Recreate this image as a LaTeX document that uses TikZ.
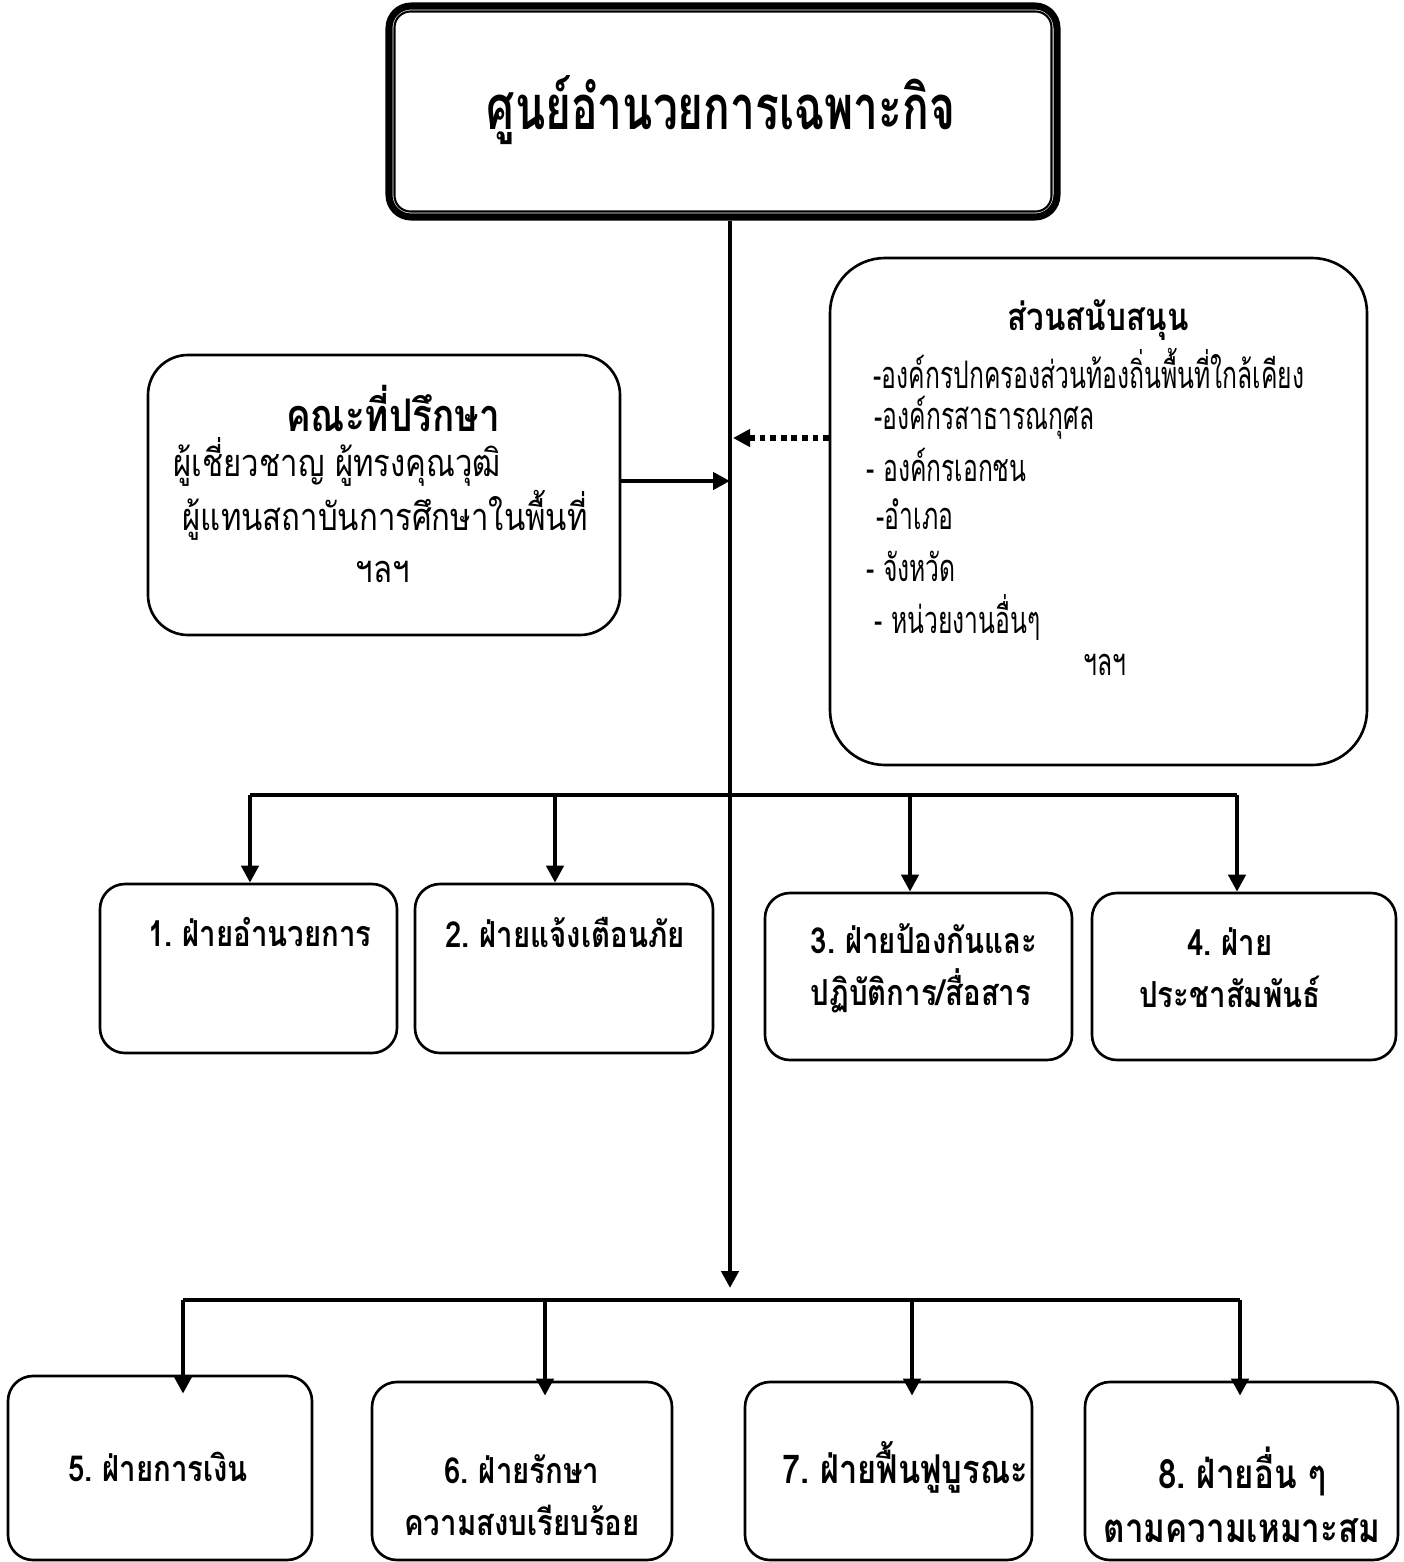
\documentclass[tikz,border=0pt]{standalone}
\usepackage{fontspec}
\usepackage{xcolor}
\usepackage{tikz}
\usetikzlibrary{arrows.meta}
\setmainfont[Script=Thai,FakeStretch=0.82]{Loma}
\newfontfamily\titlefont[Script=Thai,FakeStretch=0.72]{Loma}
\newfontfamily\narrowfont[Script=Thai,FakeStretch=0.65]{Loma}
\newcommand{\titlesize}{\fontsize{17.5}{21}\selectfont}
\newcommand{\labsize}{\fontsize{10.8}{13}\selectfont}
\newcommand{\headsize}{\fontsize{10.2}{14.7}\selectfont}
\frenchspacing

\begin{document}
\begin{tikzpicture}[
  box/.style={draw,line width=0.75pt,rounded corners=0.25cm,inner sep=0pt},
  txt/.style={inner sep=0pt,font=\labsize},
  suptxt/.style={inner sep=0pt,font=\narrowfont\fontsize{10.8}{13}\selectfont},
  head/.style={inner sep=0pt,font=\headsize\bfseries},
  conn/.style={line width=1.3pt},
  arr/.style={line width=1.3pt,-{Triangle[length=0.17cm,width=0.17cm]}}
]
\useasboundingbox (0,0) rectangle (14.03,-15.62);
\clip (0,0) rectangle (14.03,-15.62);

%% head office
\node[box,line width=2pt,rounded corners=0.22cm,minimum width=6.68cm,minimum height=2.11cm] (top) at (7.23,-1.115) {};
\draw[line width=0.6pt,rounded corners=0.16cm] ([shift={(0.09,-0.09)}]top.north west) rectangle ([shift={(-0.09,0.09)}]top.south east);
\node[inner sep=0pt,font=\titlefont\titlesize\bfseries] (title) at (7.21,-1.10) {ศูนย์อำนวยการเฉพาะกิจ};

%% advisors
\node[box,rounded corners=0.4cm,minimum width=4.72cm,minimum height=2.80cm] (adv) at (3.84,-4.95) {};
\node[head,font=\fontsize{12.8}{15}\selectfont\bfseries] (advh) at (3.93,-4.08) {คณะที่ปรึกษา};
\node[txt,anchor=west] (adv1) at (1.73,-4.62) {ผู้เชี่ยวชาญ ผู้ทรงคุณวุฒิ};
\node[txt,anchor=west] (adv2) at (1.82,-5.15) {ผู้แทนสถาบันการศึกษาในพื้นที่};
\node[txt] (adv3) at (3.83,-5.72) {ฯลฯ};

%% support
\node[box,rounded corners=0.55cm,minimum width=5.37cm,minimum height=5.07cm] (sup) at (10.985,-5.115) {};
\node[head,font=\fontsize{10.9}{13}\selectfont\bfseries] (suph) at (10.98,-3.20) {ส่วนสนับสนุน};
\node[suptxt,anchor=west] (sup1) at (8.73,-3.68) {-องค์กรปกครองส่วนท้องถิ่นพื้นที่ใกล้เคียง};
\node[suptxt,anchor=west] (sup2) at (8.74,-4.18) {-องค์กรสาธารณกุศล};
\node[suptxt,anchor=west] (sup3) at (8.66,-4.65) {- องค์กรเอกชน};
\node[suptxt,anchor=west] (sup4) at (8.76,-5.14) {-อำเภอ};
\node[suptxt,anchor=west] (sup5) at (8.66,-5.66) {- จังหวัด};
\node[suptxt,anchor=west] (sup6) at (8.74,-6.17) {- หน่วยงานอื่นๆ};
\node[suptxt] (sup7) at (11.05,-6.65) {ฯลฯ};

%% first row of units
\node[box,minimum width=2.97cm,minimum height=1.69cm] (u1) at (2.485,-9.685) {};
\node[head] (t1) at (2.60,-9.32) {1. ฝ่ายอำนวยการ};
\node[box,minimum width=2.98cm,minimum height=1.69cm] (u2) at (5.64,-9.685) {};
\node[head] (t2) at (5.65,-9.32) {2. ฝ่ายแจ้งเตือนภัย};
\node[box,minimum width=3.07cm,minimum height=1.67cm] (u3) at (9.185,-9.765) {};
\node[head,align=left] (t3) at (9.24,-9.68) {3. ฝ่ายป้องกันและ\\ปฏิบัติการ/สื่อสาร};
\node[box,minimum width=3.04cm,minimum height=1.67cm] (u4) at (12.44,-9.765) {};
\node[head,align=center] (t4) at (12.30,-9.68) {4. ฝ่าย\\ประชาสัมพันธ์};

%% second row of units
\node[box,minimum width=3.04cm,minimum height=1.84cm] (u5) at (1.60,-14.68) {};
\node[head] (t5) at (1.58,-14.67) {5. ฝ่ายการเงิน};
\node[box,minimum width=3.00cm,minimum height=1.78cm] (u6) at (5.22,-14.71) {};
\node[head,align=center] (t6) at (5.22,-14.95) {6. ฝ่ายรักษา\\ความสงบเรียบร้อย};
\node[box,minimum width=2.87cm,minimum height=1.78cm] (u7) at (8.885,-14.71) {};
\node[head,font=\fontsize{11.3}{14.7}\selectfont\bfseries] (t7) at (9.05,-14.67) {7. ฝ่ายฟื้นฟูบูรณะ};
\node[box,minimum width=3.13cm,minimum height=1.78cm] (u8) at (12.415,-14.71) {};
\node[head,align=center,font=\fontsize{11.5}{15.2}\selectfont\bfseries] (t8) at (12.42,-14.95) {8. ฝ่ายอื่น ๆ\\ตามความเหมาะสม};

%% trunk and buses
\coordinate (hub1) at (7.30,-7.95);
\coordinate (hub2) at (7.30,-13.00);
\coordinate (in1) at (7.30,-4.81);
\coordinate (in2) at (7.33,-4.38);
\draw[arr] (top.south -| hub1) -- ([yshift=0.12cm]hub2);
\draw[arr] (adv.east |- in1) -- (in1);
\draw[arr,line width=1.6pt,dash pattern=on 1.6pt off 1.4pt] (sup.west |- in2) -- (in2);

\coordinate (b1) at (2.50,-7.95);
\coordinate (b2) at (5.55,-7.95);
\coordinate (b3) at (9.10,-7.95);
\coordinate (b4) at (12.37,-7.95);
\draw[conn] (b1) -- (b4);
\draw[arr] (b1) -- (b1 |- u1.north);
\draw[arr] (b2) -- (b2 |- u2.north);
\draw[arr] (b3) -- (b3 |- u3.north);
\draw[arr] (b4) -- (b4 |- u4.north);

\coordinate (c1) at (1.83,-13.00);
\coordinate (c2) at (5.45,-13.00);
\coordinate (c3) at (9.12,-13.00);
\coordinate (c4) at (12.40,-13.00);
\draw[conn] (c1) -- (c4);
\draw[arr,shorten >=-0.19cm] (c1) -- (c1 |- u5.north);
\draw[arr,shorten >=-0.15cm] (c2) -- (c2 |- u6.north);
\draw[arr,shorten >=-0.15cm] (c3) -- (c3 |- u7.north);
\draw[arr,shorten >=-0.15cm] (c4) -- (c4 |- u8.north);
\end{tikzpicture}
\end{document}
